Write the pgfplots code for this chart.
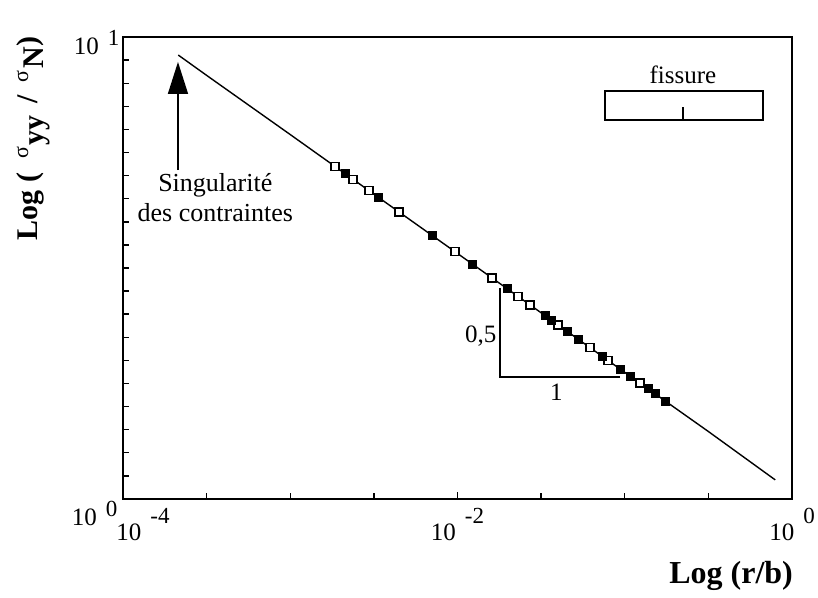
\documentclass[border=0pt]{standalone}
\usepackage{pgfplots}
\pgfplotsset{compat=1.18}
\usepackage{fontspec}
\setmainfont{Liberation Serif}
\usetikzlibrary{arrows.meta}

% exponent labels, spaced and raised like the scan
\newcommand{\xexp}[1]{10\hspace{9pt}\raisebox{17pt}{\fontsize{23}{23}\selectfont #1}}
\newcommand{\yexp}[1]{10\hspace{9pt}\raisebox{9pt}{\fontsize{23}{23}\selectfont #1}}
\newcommand{\sig}[1]{\raisebox{9pt}{\fontsize{22}{22}\selectfont σ}\hspace{2pt}\raisebox{-6pt}{#1}}

\begin{document}
\begin{tikzpicture}
\begin{axis}[
    at={(0pt,0pt)}, anchor=south west,
    scale only axis, width=669pt, height=462pt,
    xmode=log, ymode=log,
    xmin=1e-4, xmax=1, ymin=1, ymax=10,
    axis line style={line width=2.2pt},
    tick style={black, line width=1.4pt},
    major tick length=7pt, minor tick length=6pt,
    xtick pos=bottom, ytick pos=left,
    xtick={1e-2,1}, xticklabels={\xexp{-2},\xexp{0}},
    extra x ticks={1e-4}, extra x tick labels={\xexp{-4}},
    extra x tick style={xticklabel style={xshift=20pt}},
    minor xtick={3.162e-4,1e-3,3.162e-3,3.162e-2,0.1,0.3162},
    ytick={1}, yticklabels={\yexp{0}},
    extra y ticks={10}, extra y tick labels={\yexp{1}},
    extra y tick style={yticklabel style={yshift=8pt, xshift=2pt}},
    yticklabel style={yshift=-14pt, xshift=-2pt},
    minor ytick={1.122,1.259,1.413,1.585,1.778,1.995,2.239,2.512,2.818,3.162,3.548,3.981,4.467,5.012,5.623,6.310,7.079,7.943,8.913},
    ticklabel style={font=\fontsize{25}{25}\selectfont},
    xticklabel style={yshift=-6pt},
    xlabel={\textbf{Log (r/b)}},
    every axis x label/.style={at={(rel axis cs:0.909,0)}, anchor=center, yshift=-77pt, font=\fontsize{32}{32}\selectfont},
    ylabel={\textbf{Log (}\hspace{14pt}\sig{\textbf{yy}}\hspace{12pt}\textbf{/}\hspace{12pt}\sig{\textbf{N}}\textbf{)}},
    every axis y label/.style={at={(rel axis cs:0,0.78)}, xshift=-90pt, rotate=90, anchor=center, font=\fontsize{30}{30}\selectfont},
]
% computed curve
\addplot[black, line width=1.4pt, mark=none] coordinates {
    (2.14e-4,9.14) (3.162e-4,8.26) (1e-3,6.15) (3.162e-3,4.57) (1e-2,3.40)
    (3.162e-2,2.53) (0.1,1.88) (0.3162,1.40) (0.794,1.10)
};
% open squares
\addplot[only marks, mark=square*, mark size=4pt, mark options={fill=white, draw=black, line width=1.5pt}] coordinates {
    (1.852e-3,5.25) (2.372e-3,4.92) (2.957e-3,4.65) (4.469e-3,4.18) (9.663e-3,3.43)
    (1.608e-2,3.01) (2.299e-2,2.745) (2.713e-2,2.631) (3.990e-2,2.383) (6.200e-2,2.128)
    (7.941e-2,1.997) (0.1234,1.783)
};
% filled squares
\addplot[only marks, mark=square*, mark size=4pt, mark options={fill=black, draw=black}] coordinates {
    (2.125e-3,5.06) (3.347e-3,4.505) (7.038e-3,3.722) (1.221e-2,3.23) (1.977e-2,2.854)
    (3.336e-2,2.495) (3.623e-2,2.443) (4.516e-2,2.308) (5.253e-2,2.221) (7.311e-2,2.04)
    (9.368e-2,1.914) (0.1075,1.847) (0.1377,1.733) (0.1517,1.691) (0.1740,1.632)
};
% slope triangle
\draw[line width=1.5pt] (axis cs:1.795e-2,2.862) -- (axis cs:1.795e-2,1.837) -- (axis cs:9.368e-2,1.837);
\node[font=\fontsize{25}{25}\selectfont, anchor=east] at (axis cs:1.795e-2,2.25) {0,5};
\node[font=\fontsize{25}{25}\selectfont] at (axis cs:3.9e-2,1.70) {1};
% singularity arrow
\draw[line width=1.5pt, -{Triangle[length=32pt,width=20pt]}] (rel axis cs:0.0822,0.712) -- (rel axis cs:0.0822,0.946);
\node[font=\fontsize{26}{30}\selectfont, align=center] at (rel axis cs:0.138,0.652) {Singularité\\des contraintes};
% crack sketch
\draw[line width=1.5pt] (rel axis cs:0.7205,0.8203) rectangle (rel axis cs:0.9567,0.8831);
\draw[line width=1.5pt] (rel axis cs:0.8371,0.8203) -- (rel axis cs:0.8371,0.849);
\node[font=\fontsize{25}{25}\selectfont] at (rel axis cs:0.837,0.918) {fissure};
\end{axis}
\pgfresetboundingbox
\useasboundingbox (-123pt,-98pt) rectangle (695pt,499pt);
\end{tikzpicture}
\end{document}
